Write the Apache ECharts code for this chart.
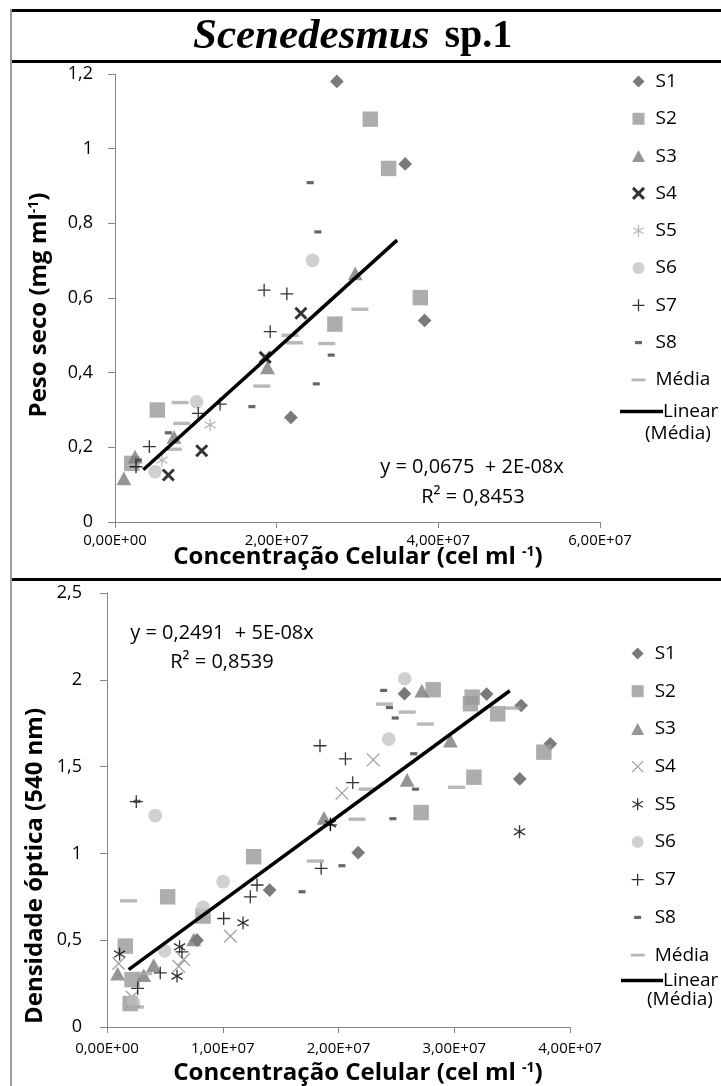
<!DOCTYPE html>
<html>
<head>
<meta charset="utf-8">
<script src="https://cdn.jsdelivr.net/npm/echarts@6.0.0/dist/echarts.min.js"></script>
<style>
html, body { margin: 0; padding: 0; background: #fff; }
#chart { width: 721px; height: 1086px; }
</style>
</head>
<body>
<div id="chart"></div>
<script>
// ---- tick labels ----
var topXTicks = ['0,00E+00', '2,00E+07', '4,00E+07', '6,00E+07'];
var topYTicks = ['0', '0,2', '0,4', '0,6', '0,8', '1', '1,2'];
var botXTicks = ['0,00E+00', '1,00E+07', '2,00E+07', '3,00E+07', '4,00E+07'];
var botYTicks = ['0', '0,5', '1', '1,5', '2', '2,5'];

// ---- top chart: peso seco vs concentracao celular ----
var topS1 = [[2.745e7, 1.18], [3.59e7, 0.959], [3.83e7, 0.54], [2.176e7, 0.28]];
var topS2 = [[3.158e7, 1.079], [3.385e7, 0.947], [3.777e7, 0.601], [2.72e7, 0.53], [5.24e6, 0.30], [2.07e6, 0.157]];
var topS3 = [[2.972e7, 0.666], [1.886e7, 0.414], [7.3e6, 0.228], [2.48e6, 0.175], [1.1e6, 0.117]];
var topS4 = [[2.3e7, 0.559], [1.858e7, 0.441], [1.073e7, 0.191], [6.6e6, 0.126]];
var topS5 = [[1.176e7, 0.26], [5.8e6, 0.166]];
var topS6 = [[2.443e7, 0.701], [1.01e7, 0.322], [4.95e6, 0.135]];
var topS7 = [[1.845e7, 0.621], [2.126e7, 0.611], [1.92e7, 0.51], [1.3e7, 0.316], [1.03e7, 0.291], [4.25e6, 0.202], [2.6e6, 0.148]];
var topS8 = [[2.415e7, 0.909], [2.51e7, 0.777], [2.675e7, 0.447], [2.49e7, 0.37], [1.693e7, 0.309], [6.6e6, 0.239], [2.9e6, 0.166]];
var topMedia = [[3.03e7, 0.57], [2.167e7, 0.50], [2.22e7, 0.48], [2.62e7, 0.478], [1.817e7, 0.364], [8.05e6, 0.32], [8.26e6, 0.264], [7.2e6, 0.195]];
var topTrend = [[3.5e6, 0.14], [3.49e7, 0.755]];

// ---- bottom chart: densidade optica vs concentracao celular ----
var botS1 = [[2.57e7, 1.92], [3.28e7, 1.918], [3.578e7, 1.852], [3.83e7, 1.631], [3.566e7, 1.429], [2.17e7, 1.004], [1.405e7, 0.789], [7.78e6, 0.50]];
var botS2 = [[2.818e7, 1.943], [3.155e7, 1.90], [3.14e7, 1.862], [3.376e7, 1.804], [3.774e7, 1.583], [3.17e7, 1.439], [2.714e7, 1.235], [1.267e7, 0.981], [5.24e6, 0.75], [8.3e6, 0.639], [1.58e6, 0.466], [2.16e6, 0.273], [2.0e6, 0.135]];
var botS3 = [[2.72e7, 1.937], [2.967e7, 1.65], [2.593e7, 1.423], [1.875e7, 1.205], [7.49e6, 0.504], [4.03e6, 0.356], [9.2e5, 0.308], [3.17e6, 0.298], [2.3e6, 0.15]];
var botS4 = [[2.3e7, 1.539], [2.03e7, 1.347], [1.066e7, 0.523], [6.62e6, 0.389], [6.2e6, 0.35], [1.0e6, 0.366], [2.16e6, 0.173]];
var botS5 = [[3.564e7, 1.125], [1.93e7, 1.17], [1.175e7, 0.60], [6.27e6, 0.462], [6.05e6, 0.293], [1.09e6, 0.42]];
var botS6 = [[2.572e7, 2.006], [2.434e7, 1.658], [4.17e6, 1.218], [1.003e7, 0.837], [8.3e6, 0.689], [4.98e6, 0.439], [2.3e6, 0.14]];
var botS7 = [[1.84e7, 1.62], [2.06e7, 1.545], [2.123e7, 1.408], [2.53e6, 1.298], [1.93e7, 1.164], [1.85e7, 0.914], [1.296e7, 0.818], [1.238e7, 0.75], [1.008e7, 0.625], [6.48e6, 0.433], [4.6e6, 0.312], [2.65e6, 0.222]];
var botS8 = [[2.39e7, 1.939], [2.44e7, 1.84], [2.49e7, 1.78], [2.65e7, 1.574], [2.665e7, 1.37], [2.47e7, 1.20], [2.03e7, 0.929], [1.685e7, 0.779], [2.6e6, 1.30]];
var botMedia = [[3.5e7, 1.837], [2.397e7, 1.86], [2.593e7, 1.814], [2.75e7, 1.745], [2.247e7, 1.37], [3.02e7, 1.381], [2.16e7, 1.197], [1.8e7, 0.956], [1.87e6, 0.727], [3.17e6, 0.308], [2.45e6, 0.115]];
var botTrend = [[1.87e6, 0.331], [3.48e7, 1.937]];

// symbols drawn in a 14x14 box (the first two moves keep the box size)
var PAD = 'path://M0 0 M14 14 ';
var SYM = {
    diamond: PAD + 'M7 1 L13 7 L7 13 L1 7 Z',
    square: PAD + 'M1 1 L13 1 L13 13 L1 13 Z',
    triangle: PAD + 'M7 1 L13.5 13 L0.5 13 Z',
    cross: PAD + 'M1.5 1.5 L12.5 12.5 M12.5 1.5 L1.5 12.5',
    star: PAD + 'M7 1 L7 13 M1.8 4 L12.2 10 M12.2 4 L1.8 10',
    circle: PAD + 'M1 7 A6 6 0 1 1 13 7 A6 6 0 1 1 1 7 Z',
    plus: PAD + 'M7 1 L7 13 M1 7 L13 7',
    dash: PAD + 'M3.5 5.4 L10.5 5.4 L10.5 8.6 L3.5 8.6 Z',
    bar: PAD + 'M0 5.6 L14 5.6 L14 8.4 L0 8.4 Z'
};

var FONT = 'Open Sans';

function scatter(name, data, idx, sym, size, color, strokeWidth) {
    var s = {
        name: name,
        type: 'scatter',
        xAxisIndex: idx,
        yAxisIndex: idx,
        data: data,
        symbol: sym,
        symbolSize: size,
        emphasis: { disabled: true },
        itemStyle: { color: color }
    };
    if (strokeWidth) {
        s.itemStyle = { color: 'rgba(0,0,0,0)', borderColor: color, borderWidth: strokeWidth };
    }
    return s;
}

function trend(name, data, idx) {
    return {
        name: name,
        type: 'line',
        xAxisIndex: idx,
        yAxisIndex: idx,
        data: data,
        symbol: 'none',
        z: 5,
        lineStyle: { color: '#000', width: 3.5 },
        itemStyle: { color: '#000' },
        emphasis: { disabled: true }
    };
}

var series = [
    scatter('S1', topS1, 0, SYM.diamond, 16, '#595959'),
    scatter('S2', topS2, 0, SYM.square, 18, '#999999'),
    scatter('S3', topS3, 0, SYM.triangle, 16, '#7a7a7a'),
    scatter('S4', topS4, 0, SYM.cross, 14, '#000000', 3),
    scatter('S5', topS5, 0, SYM.star, 15, '#a6a6a6', 1.3),
    scatter('S6', topS6, 0, SYM.circle, 16, '#c4c4c4'),
    scatter('S7', topS7, 0, SYM.plus, 15, '#000000', 1.3),
    scatter('S8', topS8, 0, SYM.dash, 14, '#404040'),
    scatter('Média', topMedia, 0, SYM.bar, 17, '#a6a6a6'),
    trend('Linear (Média)', topTrend, 0),

    scatter('S1#2', botS1, 1, SYM.diamond, 16, '#595959'),
    scatter('S2#2', botS2, 1, SYM.square, 18, '#999999'),
    scatter('S3#2', botS3, 1, SYM.triangle, 16, '#7a7a7a'),
    scatter('S4#2', botS4, 1, SYM.cross, 16, '#8c8c8c', 1.3),
    scatter('S5#2', botS5, 1, SYM.star, 15, '#000000', 1.3),
    scatter('S6#2', botS6, 1, SYM.circle, 16, '#c4c4c4'),
    scatter('S7#2', botS7, 1, SYM.plus, 15, '#000000', 1.3),
    scatter('S8#2', botS8, 1, SYM.dash, 14, '#404040'),
    scatter('Média#2', botMedia, 1, SYM.bar, 17, '#a6a6a6'),
    trend('Linear (Média)#2', botTrend, 1)
];

function legendItems(suffix) {
    return ['S1', 'S2', 'S3', 'S4', 'S5', 'S6', 'S7', 'S8', 'Média'].map(function (n) {
        var name = n + suffix;
        var s = series.filter(function (x) { return x.name === name; })[0];
        var item = { name: name };
        if (s.itemStyle.borderWidth) {
            item.itemStyle = { borderWidth: s.itemStyle.borderWidth, borderColor: s.itemStyle.borderColor, color: 'rgba(0,0,0,0)' };
        } else {
            item.itemStyle = { borderWidth: 0 };
        }
        return item;
    });
}

function stripName(n) { return n.replace('#2', ''); }

var axisColor = '#868686';

function xAxis(idx, max, interval, ticks, margin) {
    return {
        type: 'value', gridIndex: idx, min: 0, max: max, interval: interval,
        splitLine: { show: false },
        axisLine: { lineStyle: { color: axisColor, width: 1 } },
        axisTick: { inside: false, length: 6, lineStyle: { color: axisColor } },
        axisLabel: {
            margin: margin, color: '#000', fontFamily: FONT, fontSize: 15,
            formatter: function (v) { return ticks[Math.round(v / interval)]; }
        }
    };
}

function yAxis(idx, max, interval, ticks, margin) {
    return {
        type: 'value', gridIndex: idx, min: 0, max: max, interval: interval,
        splitLine: { show: false },
        axisLine: { show: true, lineStyle: { color: axisColor, width: 1 } },
        axisTick: { show: true, inside: false, length: 7, lineStyle: { color: axisColor } },
        axisLabel: {
            margin: margin, color: '#000', fontFamily: FONT, fontSize: 18,
            formatter: function (v) { return ticks[Math.round(v / interval)]; }
        }
    };
}

var nameRich = {
    a: { fontFamily: FONT, fontWeight: 'bold', fontSize: 24, color: '#000' },
    s: { fontFamily: FONT, fontWeight: 'bold', fontSize: 14, color: '#000', verticalAlign: 'top', padding: [0, 0, 10, 0] }
};

function label(x, y, text, rot) {
    return {
        type: 'text', x: x, y: y, rotation: rot || 0,
        style: { text: text, rich: nameRich, align: 'center', verticalAlign: 'middle' }
    };
}

function plainText(x, y, text, size) {
    return {
        type: 'text', x: x, y: y,
        style: { text: text, fontFamily: FONT, fontSize: size, fill: '#000', align: 'center', verticalAlign: 'middle' }
    };
}

var chart = echarts.init(document.getElementById('chart'));

var option = {
    animation: false,
    backgroundColor: '#fff',
    title: {
        text: '{i|Scenedesmus}   {b|sp.1}',
        left: 188,
        top: 10,
        textStyle: {
            rich: {
                i: { fontFamily: 'Liberation Serif', fontStyle: 'italic', fontWeight: 'bold', fontSize: 43, color: '#000' },
                b: { fontFamily: 'Liberation Serif', fontWeight: 'bold', fontSize: 40, color: '#000' }
            }
        }
    },
    grid: [
        { left: 115, top: 74, width: 485, height: 448 },
        { left: 107, top: 593, width: 463, height: 434 }
    ],
    xAxis: [
        xAxis(0, 6e7, 2e7, topXTicks, 11),
        xAxis(1, 4e7, 1e7, botXTicks, 14)
    ],
    yAxis: [
        yAxis(0, 1.2, 0.2, topYTicks, 22),
        yAxis(1, 2.5, 0.5, botYTicks, 25)
    ],
    legend: [
        {
            orient: 'vertical', left: 625, top: 67, itemWidth: 24, itemHeight: 14, itemGap: 18.3,
            data: legendItems(''), formatter: stripName, selectedMode: false,
            textStyle: { fontFamily: FONT, fontSize: 19, color: '#000' }
        },
        {
            orient: 'vertical', left: 615, top: 397, itemWidth: 43, itemHeight: 3.5,
            data: [{ name: 'Linear (Média)', icon: 'rect', itemStyle: { color: '#000', borderWidth: 0 } }],
            formatter: function () { return 'Linear'; }, selectedMode: false,
            textStyle: { fontFamily: FONT, fontSize: 19, color: '#000', padding: [0, 0, 0, -5] }
        },
        {
            orient: 'vertical', left: 625, top: 639, itemWidth: 24, itemHeight: 14, itemGap: 18.7,
            data: legendItems('#2'), formatter: stripName, selectedMode: false,
            textStyle: { fontFamily: FONT, fontSize: 19, color: '#000' }
        },
        {
            orient: 'vertical', left: 616, top: 966, itemWidth: 42, itemHeight: 3.5,
            data: [{ name: 'Linear (Média)#2', icon: 'rect', itemStyle: { color: '#000', borderWidth: 0 } }],
            formatter: function () { return 'Linear'; }, selectedMode: false,
            textStyle: { fontFamily: FONT, fontSize: 19, color: '#000', padding: [0, 0, 0, -5] }
        }
    ],
    graphic: [
        // frame
        { type: 'rect', shape: { x: 11, y: 9, width: 710, height: 3 }, style: { fill: '#000' } },
        { type: 'rect', shape: { x: 11, y: 60, width: 710, height: 3 }, style: { fill: '#000' } },
        { type: 'rect', shape: { x: 11, y: 578, width: 710, height: 3 }, style: { fill: '#000' } },
        { type: 'rect', shape: { x: 10, y: 9, width: 2, height: 1077 }, style: { fill: '#9a9a9a' } },
        // axis names
        label(39, 305, '{a|Peso seco (mg ml}{s|-1}{a|)}', Math.PI / 2),
        label(358, 557, '{a|Concentração Celular (cel ml }{s|-1}{a|)}'),
        label(35, 866, '{a|Densidade óptica (540 nm)}', Math.PI / 2),
        label(358, 1073, '{a|Concentração Celular (cel ml }{s|-1}{a|)}'),
        // regression notes
        plainText(472, 467, 'y = 0,0675  + 2E-08x', 20),
        plainText(473, 497, 'R² = 0,8453', 20),
        plainText(222, 633, 'y = 0,2491  + 5E-08x', 20),
        plainText(222, 662, 'R² = 0,8539', 20),
        // second line of the trend legend entries
        { type: 'text', x: 645, y: 434, style: { text: '(Média)', fontFamily: FONT, fontSize: 19, fill: '#000', align: 'left', verticalAlign: 'middle' } },
        { type: 'text', x: 647, y: 1000, style: { text: '(Média)', fontFamily: FONT, fontSize: 19, fill: '#000', align: 'left', verticalAlign: 'middle' } }
    ],
    series: series
};

chart.setOption(option);
</script>
</body>
</html>
